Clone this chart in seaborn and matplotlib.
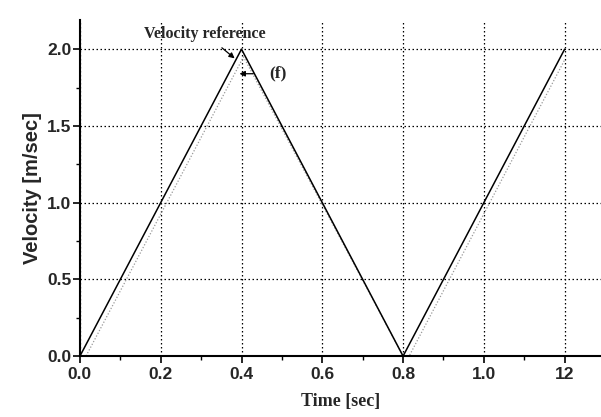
import numpy as np
import pandas as pd
import matplotlib
matplotlib.use("Agg")
import matplotlib.pyplot as plt
import seaborn as sns
from matplotlib.ticker import MultipleLocator

# data
ref_t = [0.0, 0.4, 0.8, 1.2]
ref_v = [0.0, 2.0, 0.0, 2.0]
resp_t = [0.0, 0.015, 0.405, 0.8, 0.815, 1.2]
resp_v = [0.0, 0.0, 1.95, 0.0, 0.0, 1.93]
x_ticks = [0.0, 0.2, 0.4, 0.6, 0.8, 1.0, 1.2]
x_labels = ["0.0", "0.2", "0.4", "0.6", "0.8", "1.0", "12"]
y_ticks = [0.0, 0.5, 1.0, 1.5, 2.0]
y_labels = ["0.0", "0.5", "1.0", "1.5", "2.0"]

sns.set_style("white")
plt.rcParams['font.family'] = ['Liberation Sans', 'DejaVu Sans']

fig = plt.figure(figsize=(6.01, 4.17), dpi=100)
ax = fig.add_axes([0.133, 0.146, 0.867, 0.806])

ref = pd.DataFrame({"t": ref_t, "v": ref_v})
resp = pd.DataFrame({"t": resp_t, "v": resp_v})
sns.lineplot(data=resp, x="t", y="v", ax=ax, color="#999999", lw=0.9,
             linestyle=(0, (1, 1.5)), sort=False)
sns.lineplot(data=ref, x="t", y="v", ax=ax, color="black", lw=1.1, sort=False)

ax.set_xlim(0, 1.29)
ax.set_ylim(0, 2.19)
ax.set_xticks(x_ticks)
ax.set_xticklabels(x_labels)
ax.set_yticks(y_ticks)
ax.set_yticklabels(y_labels)
ax.xaxis.set_minor_locator(MultipleLocator(0.1))
ax.yaxis.set_minor_locator(MultipleLocator(0.25))
for lab in ax.get_xticklabels() + ax.get_yticklabels():
    lab.set_fontweight("bold")
    lab.set_fontsize(12.5)

ax.tick_params(axis="x", which="major", direction="out", length=5, width=1.2,
               color="black", bottom=True, pad=3)
ax.tick_params(axis="y", which="major", direction="out", length=5, width=1.2,
               color="black", left=True, pad=1)
ax.tick_params(axis="both", which="minor", direction="out", length=3, width=1.0,
               color="black", bottom=True, left=True)

ax.grid(True, which="major", color="black", linestyle=(0, (1.2, 2.0)), lw=0.9)
ax.set_axisbelow(True)

for s in ["top", "right"]:
    ax.spines[s].set_visible(False)
for s in ["left", "bottom"]:
    ax.spines[s].set_color("black")
    ax.spines[s].set_linewidth(1.5)

ax.set_xlabel("Time [sec]", fontsize=13, fontweight="bold",
              family=["Liberation Serif"], labelpad=8)
ax.set_ylabel("Velocity [m/sec]", fontsize=14.5, fontweight="bold", labelpad=4)

ax.annotate("Velocity reference", xy=(0.383, 1.94), xytext=(0.31, 2.10),
            ha="center", va="center", fontsize=11.5, fontweight="bold",
            family=["Liberation Serif"],
            arrowprops=dict(arrowstyle="-|>", color="black", lw=0.9,
                            shrinkA=3, shrinkB=0, mutation_scale=8))
ax.annotate("(f)", xy=(0.395, 1.84), xytext=(0.49, 1.84),
            ha="center", va="center", fontsize=12.5, fontweight="bold",
            family=["Liberation Serif"],
            arrowprops=dict(arrowstyle="-|>", color="black", lw=0.9,
                            shrinkA=9, shrinkB=0, mutation_scale=8))

fig.savefig("out.png", dpi=100)
